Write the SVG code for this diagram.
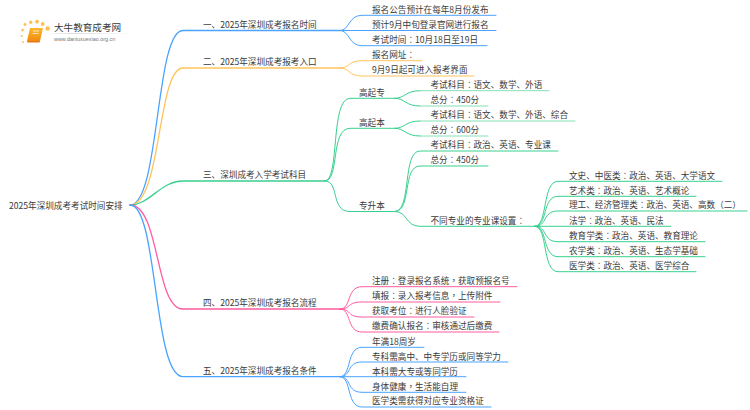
<svg xmlns="http://www.w3.org/2000/svg" width="750" height="410" viewBox="0 0 750 410">
<defs>
<linearGradient id="fade" x1="0" x2="1" y1="0" y2="0"><stop offset="0" stop-color="#ccc" stop-opacity="0"/><stop offset=".3" stop-color="#ccc"/><stop offset="1" stop-color="#ccc" stop-opacity="0"/></linearGradient>
<linearGradient id="bk" x1="0" x2="0" y1="0" y2="1"><stop offset="0" stop-color="#fdb82e"/><stop offset="1" stop-color="#f08a10"/></linearGradient>
</defs>
<style>
text{font-family:"Noto Sans CJK SC","Noto Sans",sans-serif;font-size:8.6px;fill:#3a3a3a}
.c{font-family:"Noto Sans CJK TC","Noto Sans",sans-serif}
path{fill:none;stroke-width:1;stroke-linecap:round}
.b{stroke:#4aa3ff}.o{stroke:#ffc35c}.g{stroke:#38d08f}.p{stroke:#ff5c9f}
.m{stroke-width:1.3}
.lg{stroke:#86e0b6}
.dot{fill:#fdc04a}
</style>
<rect width="750" height="410" fill="#fff"/>
<g id="logo">
<circle class="dot" cx="25" cy="24.5" r="1.4"/><circle class="dot" cx="30.7" cy="22.3" r="1.7"/><circle class="dot" cx="37" cy="21.7" r="1.9"/><circle class="dot" cx="42.7" cy="24" r="1.9"/><circle class="dot" cx="47.7" cy="28.5" r="2.2"/><circle class="dot" cx="22.5" cy="30" r="1.3"/><circle class="dot" cx="21.7" cy="36" r="1"/><circle class="dot" cx="23" cy="42" r=".9"/>
<polygon points="30,28 43,28 40,41 27,41" fill="url(#bk)"/>
<polygon points="27,41 40,41 39.500,42.500 27.500,42.500" fill="#e8780f"/>
<rect x="33" y="30.500" width="6" height="1" fill="#fff" fill-opacity=".7"/><rect x="32.500" y="33" width="6" height="1" fill="#fff" fill-opacity=".7"/>
<rect x="45" y="33" width="88" height=".7" fill="url(#fade)"/>
<text x="54" y="30.500" style="font-size:9.6px">大牛教育成考网</text>
<text x="54" y="41" style="font-size:5.4px;fill:#777;font-family:'Liberation Sans',sans-serif">www.daniuxuexiao.org.cn</text>
</g>
<g id="connectors">
<path class="b m" d="M130 205C160 205 155 30.500 183 30.500H340"/>
<path class="o m" d="M130 205C162 205 157 68 183 68H340"/>
<path class="g m" d="M130 205C150 205 160 181 183 181H325"/>
<path class="p m" d="M130 205C160 205 155 309 183 309H340"/>
<path class="b m" d="M130 205C158 205 153 376.700 183 376.700H340"/>
<path class="b" d="M340 30.500C350 30.500 348 15.300 362 15.300H496"/><path class="b" d="M340 30.500H496"/><path class="b" d="M340 30.500C350 30.500 348 45.700 362 45.700H487"/>
<path class="o" d="M340 68C350 68 348 60.700 362 60.700H422"/><path class="o" d="M340 68C350 68 348 76 362 76H474"/>
<path class="g" d="M325 181C340 181 330 98.300 350 98.300H395"/><path class="g" d="M325 181C340 181 330 128.300 350 128.300H395"/><path class="g" d="M325 181C340 181 330 211.500 350 211.500H395"/>
<path class="g" d="M395 98.300C405 98.300 405 90.700 420 90.700"/><path class="lg" d="M420 90.700H549"/>
<path class="g" d="M395 98.300C405 98.300 405 106 420 106"/><path class="lg" d="M420 106H488"/>
<path class="g" d="M395 128.300C405 128.300 405 121 420 121"/><path class="lg" d="M420 121H575"/>
<path class="g" d="M395 128.300C405 128.300 405 136 420 136"/><path class="lg" d="M420 136H488"/>
<path class="g" d="M395 211.500C412 211.500 402 151 420 151H558"/><path class="g" d="M395 211.500C412 211.500 402 166 420 166H488"/><path class="g" d="M395 211.500C408 211.500 405 226.300 420 226.300H535"/>
<path class="g" d="M535 226.300C548 226.300 542 181.300 558 181.300H722"/><path class="g" d="M535 226.300C548 226.300 542 196.300 558 196.300H696"/><path class="g" d="M535 226.300C548 226.300 542 211 558 211H747"/><path class="g" d="M535 226.300H671"/><path class="g" d="M535 226.300C548 226.300 542 241.700 558 241.700H705"/><path class="g" d="M535 226.300C548 226.300 542 256.700 558 256.700H705"/><path class="g" d="M535 226.300C548 226.300 542 271.700 558 271.700H696"/>
<path class="p" d="M340 309C352 309 346 286.700 362 286.700H517"/><path class="p" d="M340 309C352 309 346 302 362 302H500"/><path class="p" d="M340 309C352 309 346 317 362 317H474"/><path class="p" d="M340 309C352 309 346 332 362 332H499"/>
<path class="b" d="M340 376.700C352 376.700 346 347.300 362 347.300H424"/><path class="b" d="M340 376.700C352 376.700 346 362 362 362H508"/><path class="b" d="M340 376.700H466"/><path class="b" d="M340 376.700C352 376.700 346 392.300 362 392.300H466"/><path class="b" d="M340 376.700C352 376.700 346 407 362 407H491"/>
</g>
<g id="root"><text x="9" y="208.500">2025年深圳成考考试时间安排</text></g>
<g id="n1"><text x="203" y="27.500">一、2025年深圳成考报名时间</text>
<text x="372" y="12.500">报名公告预计在每年8月份发布</text><text x="372" y="27.500">预计9月中旬登录官网进行报名</text><text x="372" y="42.500">考试时间<tspan class="c">：</tspan>10月18日至19日</text></g>
<g id="n2"><text x="203" y="65">二、2025年深圳成考报考入口</text>
<text x="372" y="58">报名网址<tspan class="c">：</tspan></text><text x="372" y="73">9月9日起可进入报考界面</text></g>
<g id="n3"><text x="203" y="178">三、深圳成考入学考试科目</text>
<g id="n3a"><text x="359" y="95.500">高起专</text><text x="430.500" y="88">考试科目<tspan class="c">：</tspan>语文、数学、外语</text><text x="430.500" y="103">总分<tspan class="c">：</tspan>450分</text></g>
<g id="n3b"><text x="359" y="125.500">高起本</text><text x="430.500" y="118">考试科目<tspan class="c">：</tspan>语文、数学、外语、综合</text><text x="430.500" y="133">总分<tspan class="c">：</tspan>600分</text></g>
<g id="n3c"><text x="359" y="208.500">专升本</text><text x="430.500" y="148">考试科目<tspan class="c">：</tspan>政治、英语、专业课</text><text x="430.500" y="163">总分<tspan class="c">：</tspan>450分</text><text x="430.500" y="223.500">不同专业的专业课设置<tspan class="c">：</tspan></text>
<text x="569" y="178.500">文史、中医类<tspan class="c">：</tspan>政治、英语、大学语文</text><text x="569" y="193.500">艺术类<tspan class="c">：</tspan>政治、英语、艺术概论</text><text x="569" y="208">理工、经济管理类<tspan class="c">：</tspan>政治、英语、高数<tspan class="c">（</tspan>二<tspan class="c">）</tspan></text><text x="569" y="223.500">法学<tspan class="c">：</tspan>政治、英语、民法</text><text x="569" y="239">教育学类<tspan class="c">：</tspan>政治、英语、教育理论</text><text x="569" y="254">农学类<tspan class="c">：</tspan>政治、英语、生态学基础</text><text x="569" y="269">医学类<tspan class="c">：</tspan>政治、英语、医学综合</text></g></g>
<g id="n4"><text x="203" y="306">四、2025年深圳成考报名流程</text>
<text x="372" y="284">注册<tspan class="c">：</tspan>登录报名系统<tspan class="c">，</tspan>获取预报名号</text><text x="372" y="299">填报<tspan class="c">：</tspan>录入报考信息<tspan class="c">，</tspan>上传附件</text><text x="372" y="314">获取考位<tspan class="c">：</tspan>进行人脸验证</text><text x="372" y="329">缴费确认报名<tspan class="c">：</tspan>审核通过后缴费</text></g>
<g id="n5"><text x="203" y="374">五、2025年深圳成考报名条件</text>
<text x="372" y="344.500">年满18周岁</text><text x="372" y="359.500">专科需高中、中专学历或同等学力</text><text x="372" y="374.500">本科需大专或等同学历</text><text x="372" y="389.500">身体健康<tspan class="c">，</tspan>生活能自理</text><text x="372" y="404">医学类需获得对应专业资格证</text></g>
</svg>
